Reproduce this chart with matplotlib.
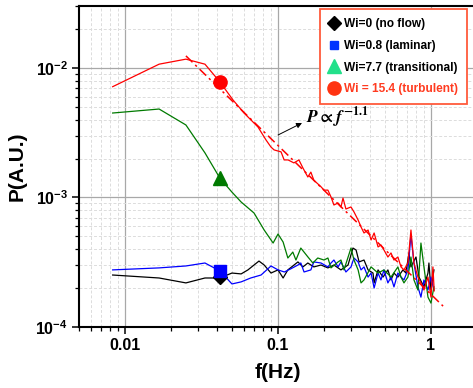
import matplotlib
matplotlib.use("Agg")
import matplotlib.pyplot as plt
from matplotlib.lines import Line2D
from matplotlib.ticker import LogLocator, NullFormatter

plt.rcParams['font.family'] = ['Liberation Sans', 'DejaVu Sans']
plt.rcParams['font.weight'] = 'bold'
plt.rcParams['mathtext.fontset'] = 'custom'
plt.rcParams['mathtext.rm'] = 'Liberation Sans:bold'
plt.rcParams['mathtext.bf'] = 'Liberation Sans:bold'
plt.rcParams['mathtext.it'] = 'Liberation Sans:bold:italic'

# power spectra (P in units of 1e-4)
f_red = [0.0083, 0.0167, 0.025, 0.0333, 0.0417, 0.0508, 0.060, 0.0740, 0.0835, 0.090,
         0.0943, 0.1047, 0.1097, 0.1164, 0.127, 0.137, 0.1455, 0.1567, 0.164, 0.1715,
         0.191, 0.200, 0.212, 0.222, 0.232, 0.247, 0.258, 0.266, 0.278, 0.300,
         0.314, 0.334, 0.349, 0.365, 0.388, 0.406, 0.425, 0.451, 0.471, 0.493,
         0.523, 0.548, 0.573, 0.608, 0.637, 0.666, 0.707, 0.740, 0.774, 0.822,
         0.860, 0.900, 0.956, 1.0, 1.03, 1.05]
p_red = [71.7, 107, 117, 107, 78, 56.6, 44.9, 35.0, 27.8, 24.5,
         23.3, 22.5, 19.5, 19.5, 18.5, 19.5, 16.9, 14.4, 15.7, 13.6,
         12.1, 11.4, 11.4, 10.1, 8.75, 9.07, 8.45, 9.9, 8.15, 8.45,
         7.73, 6.70, 5.92, 5.32, 5.61, 4.70, 5.32, 4.15, 4.30, 3.93,
         3.47, 3.73, 3.29, 3.47, 2.91, 2.76, 3.12, 5.61, 3.12, 2.43,
         2.19, 1.93, 2.43, 1.70, 2.91, 1.90]

f_black = [0.0083, 0.0167, 0.025, 0.0333, 0.0417, 0.050, 0.0574, 0.0636, 0.0751, 0.0812,
           0.090, 0.100, 0.108, 0.116, 0.135, 0.1455, 0.1567, 0.1715, 0.191, 0.212,
           0.232, 0.258, 0.287, 0.309, 0.324, 0.339, 0.365, 0.388, 0.418, 0.425,
           0.451, 0.486, 0.523, 0.548, 0.573, 0.608, 0.656, 0.686, 0.718, 0.740,
           0.798, 0.835, 0.900, 0.956, 0.970, 1.0, 1.046]
p_black = [2.52, 2.39, 2.19, 2.39, 2.39, 2.61, 2.57, 2.76, 3.23, 3.01,
           2.61, 2.76, 2.39, 2.76, 3.18, 2.91, 3.12, 2.91, 3.01, 2.86,
           3.01, 2.76, 3.01, 4.07, 3.93, 3.18, 3.29, 2.76, 2.61, 2.19,
           2.76, 2.43, 2.76, 2.31, 2.61, 2.43, 2.76, 2.61, 3.73, 2.91,
           3.47, 2.43, 2.04, 2.61, 3.12, 1.93, 2.76]

f_blue = [0.0083, 0.0167, 0.025, 0.0333, 0.0417, 0.050, 0.0574, 0.0663, 0.0775, 0.090,
          0.100, 0.110, 0.121, 0.135, 0.141, 0.148, 0.164, 0.1715, 0.191, 0.212,
          0.222, 0.232, 0.247, 0.258, 0.278, 0.300, 0.314, 0.334, 0.349, 0.365,
          0.388, 0.406, 0.425, 0.451, 0.471, 0.493, 0.523, 0.548, 0.573, 0.608,
          0.637, 0.666, 0.707, 0.740, 0.774, 0.822, 0.860, 0.900, 0.956, 1.0, 1.046]
p_blue = [2.76, 2.86, 2.96, 3.12, 2.71, 2.15, 2.23, 2.39, 2.52, 2.96,
          2.76, 2.66, 2.81, 3.01, 3.12, 2.66, 2.76, 3.18, 3.12, 2.91,
          3.12, 3.29, 2.91, 3.18, 2.66, 2.91, 3.41, 3.18, 2.76, 2.91,
          2.43, 2.61, 2.00, 2.61, 2.31, 2.76, 2.19, 2.43, 2.04, 2.61,
          2.43, 2.31, 2.76, 5.13, 3.12, 2.04, 1.70, 2.31, 1.93, 2.43, 1.93]

f_green = [0.0083, 0.0167, 0.025, 0.0333, 0.0417, 0.050, 0.0574, 0.0697, 0.0812, 0.0929,
           0.100, 0.108, 0.116, 0.125, 0.131, 0.141, 0.157, 0.169, 0.182, 0.200,
           0.212, 0.222, 0.247, 0.258, 0.270, 0.300, 0.314, 0.334, 0.349, 0.365,
           0.406, 0.451, 0.493, 0.548, 0.608, 0.637, 0.666, 0.707, 0.740, 0.774,
           0.822, 0.860, 0.900, 0.956, 1.0, 1.046]
p_green = [44.9, 48.2, 36.3, 22.1, 14.1, 11.0, 9.23, 7.59, 5.61, 4.45,
           5.22, 4.53, 3.41, 3.79, 3.29, 4.07, 3.47, 3.12, 3.41, 3.29,
           3.41, 2.86, 3.18, 3.29, 2.76, 4.07, 3.29, 2.76, 2.19, 2.31,
           2.91, 2.61, 2.76, 2.43, 2.91, 2.43, 2.19, 2.43, 3.47, 2.31,
           1.93, 4.45, 2.91, 1.70, 1.53, 2.04]

# power-law guide, end points
f_fit = [0.025, 1.2]
p_fit = [1.24e-2, 1.45e-4]

f_mark = 0.0417
mark_p = {'black': 2.42e-4, 'blue': 2.72e-4, 'green': 1.42e-3, 'red': 7.8e-3}

labels = ['Wi=0 (no flow)', 'Wi=0.8 (laminar)', 'Wi=7.7 (transitional)',
          'Wi = 15.4 (turbulent)']

W, H = 473, 388
fig = plt.figure(figsize=(W / 100, H / 100), dpi=100)
ax = fig.add_axes([79 / W, 1 - 327 / H, 398 / W, 321 / H])

sc = 1e-4
ax.plot(f_black, [p * sc for p in p_black], color='black', lw=0.9)
ax.plot(f_blue, [p * sc for p in p_blue], color='#0000ff', lw=0.9)
ax.plot(f_green, [p * sc for p in p_green], color='#007a00', lw=0.9)
ax.plot(f_red, [p * sc for p in p_red], color='#ff0000', lw=0.9)
ax.plot(f_fit, p_fit, color='#ff0000', lw=1.1, ls=(0, (6, 2.5, 1.5, 2.5)))

ax.plot(f_mark, mark_p['black'], marker='D', color='black', ms=7.5, ls='none')
ax.plot(f_mark, mark_p['blue'], marker='s', color='#0000ff', ms=8, ls='none')
ax.plot(f_mark, mark_p['green'], marker='^', color='#007a00', ms=10, ls='none')
ax.plot(f_mark, mark_p['red'], marker='o', color='#ff0000', ms=9.5, ls='none')

ax.set_xscale('log')
ax.set_yscale('log')
ax.set_xlim(0.005, 2)
ax.set_ylim(1e-4, 3.01e-2)

ax.xaxis.set_minor_locator(LogLocator(base=10, subs=range(2, 10)))
ax.yaxis.set_minor_locator(LogLocator(base=10, subs=range(2, 10)))
ax.xaxis.set_minor_formatter(NullFormatter())
ax.yaxis.set_minor_formatter(NullFormatter())
ax.set_xticks([0.01, 0.1, 1])
ax.set_xticklabels(['0.01', '0.1', '1'])

ax.grid(True, which='major', color='#a8a8a8', lw=0.9, ls='-')
ax.grid(True, which='minor', color='#dcdcdc', lw=0.7, ls=(0, (3, 2)))
ax.set_axisbelow(True)

ax.tick_params(which='major', direction='out', length=5, width=1.1, labelsize=11.5, pad=3)
ax.tick_params(which='minor', direction='out', length=3, width=0.9)
for side in ['left', 'bottom', 'top']:
    ax.spines[side].set_linewidth(1.5)
ax.spines['right'].set_visible(False)

ax.set_xlabel('f(Hz)', fontsize=15, fontweight='bold', labelpad=7)
ax.set_ylabel('P(A.U.)', fontsize=15, fontweight='bold', labelpad=6)

ax.annotate('', xy=(0.1435, 3.76e-3), xytext=(0.1002, 3.04e-3),
            arrowprops=dict(arrowstyle='-|>', color='black', lw=0.7,
                            mutation_scale=8, shrinkA=0, shrinkB=0))
ax.text(0.1524, 4.11e-3, r'$P \propto f^{-1.1}$', fontsize=12.5, fontweight='normal',
        math_fontfamily='stix', va='center', ha='left')

handles = [
    Line2D([], [], marker='D', color='black', ls='none', ms=7),
    Line2D([], [], marker='s', color='#0033ff', ls='none', ms=6),
    Line2D([], [], marker='^', color='#22e08a', ls='none', ms=10),
    Line2D([], [], marker='o', color='#ff3311', ls='none', ms=9.5),
]
leg = ax.legend(handles, labels, loc='upper right',
                bbox_to_anchor=(467 / W, 1 - 9 / H), bbox_transform=fig.transFigure,
                frameon=True, fancybox=False, framealpha=1,
                prop={'weight': 'bold', 'size': 8.6}, handlelength=1.0,
                handletextpad=0.3, labelspacing=0.82, borderpad=0.75,
                borderaxespad=0)
leg.get_frame().set_edgecolor('#ff5a3c')
leg.get_frame().set_linewidth(1.3)
leg.get_texts()[3].set_color('#ff3b20')

fig.savefig('out.png', dpi=100)
